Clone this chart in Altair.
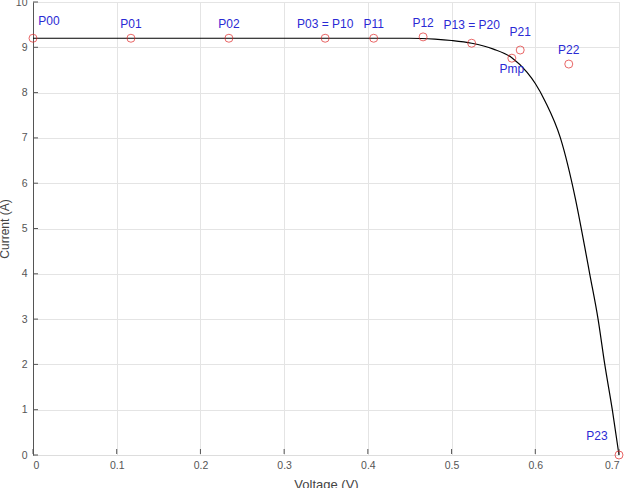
import altair as alt
import pandas as pd

# ---- data ----
point_labels = ["P00", "P01", "P02", "P03 = P10", "P11", "P12", "P13 = P20", "Pmp", "P21", "P22", "P23"]
point_v = [0.000, 0.117, 0.234, 0.349, 0.407, 0.466, 0.524, 0.572, 0.582, 0.640, 0.700]
point_i = [9.20, 9.20, 9.20, 9.20, 9.20, 9.23, 9.09, 8.76, 8.94, 8.63, 0.00]

curve_v = [0.000, 0.100, 0.200, 0.300, 0.400, 0.450, 0.480, 0.500, 0.524, 0.550, 0.572,
           0.590, 0.600, 0.612, 0.630, 0.648, 0.659, 0.665, 0.675, 0.683, 0.692, 0.700]
curve_i = [9.20, 9.20, 9.20, 9.20, 9.20, 9.20, 9.18, 9.15, 9.09, 8.96, 8.77,
           8.45, 8.20, 7.80, 7.00, 5.65, 4.60, 4.00, 3.00, 2.00, 1.00, 0.00]

x_ticks = [0, 0.1, 0.2, 0.3, 0.4, 0.5, 0.6, 0.7]
y_ticks = [0, 1, 2, 3, 4, 5, 6, 7, 8, 9, 10]

pts = pd.DataFrame({"label": point_labels, "v": point_v, "i": point_i})
curve = pd.DataFrame({"v": curve_v, "i": curve_i})
xt = pd.DataFrame({"v": x_ticks})
yt = pd.DataFrame({"i": y_ticks})

W, H = 586, 453
FONT = "Liberation Sans"
BLUE = "#2a2ad4"
RED = "#e02828"
AXISC = "#555555"
GRIDC = "#e4e4e4"

xscale = alt.Scale(domain=[0, 0.7], nice=False, zero=False)
yscale = alt.Scale(domain=[0, 10], nice=False)

xaxis = alt.Axis(values=x_ticks, format="~g", title="Voltage (V)", domain=False, ticks=False,
                 tickSize=0, grid=True, gridColor=GRIDC, gridWidth=1, labelPadding=5,
                 labelFont=FONT, labelFontSize=10.5, labelColor=AXISC, titleFont=FONT,
                 titleFontSize=13, titleFontWeight="normal", titleColor="#444444", titlePadding=8)
yaxis = alt.Axis(values=y_ticks, format="d", title="Current (A)", domain=True, domainColor=AXISC,
                 domainWidth=1, ticks=False, tickSize=0, grid=True, gridColor=GRIDC, gridWidth=1,
                 gridOpacity={"condition": {"test": "datum.value == 0", "value": 0}, "value": 1},
                 labelPadding=6, labelFont=FONT, labelFontSize=10.5, labelColor=AXISC,
                 titleFont=FONT, titleFontSize=12, titleFontWeight="normal", titleColor="#444444",
                 titleAngle=270, titleBaseline="bottom", titleAlign="center",
                 titleX=-22, titleY=H / 2)

base_axes = alt.Chart(curve).mark_line(color="black", strokeWidth=1.2, interpolate="monotone").encode(
    x=alt.X("v:Q", scale=xscale, axis=xaxis),
    y=alt.Y("i:Q", scale=yscale, axis=yaxis),
)

xtick_marks = alt.Chart(xt).mark_rule(color=AXISC, strokeWidth=1).encode(
    x=alt.X("v:Q", scale=xscale), y=alt.value(H - 1), y2=alt.value(H - 6)
)
ytick_marks = alt.Chart(yt).mark_rule(color=AXISC, strokeWidth=1).encode(
    y=alt.Y("i:Q", scale=yscale), x=alt.value(0), x2=alt.value(5)
)

circles = alt.Chart(pts).mark_point(shape="circle", filled=False, color=RED, size=64, strokeWidth=1).encode(
    x=alt.X("v:Q", scale=xscale), y=alt.Y("i:Q", scale=yscale)
)


def label_layer(names, dx, dy):
    return alt.Chart(pts).transform_filter(
        alt.FieldOneOfPredicate(field="label", oneOf=names)
    ).mark_text(font=FONT, fontSize=12, color=BLUE, align="center", baseline="middle", dx=dx, dy=dy).encode(
        x=alt.X("v:Q", scale=xscale), y=alt.Y("i:Q", scale=yscale), text="label:N"
    )


labels = [
    label_layer(["P01", "P02", "P03 = P10", "P11", "P12", "P22"], 0, -14),
    label_layer(["P13 = P20", "P21"], 0, -18),
    label_layer(["P00"], 16, -17),
    label_layer(["Pmp"], 0, 11),
    label_layer(["P23"], -22, -19),
]

chart = alt.layer(base_axes, xtick_marks, ytick_marks, circles, *labels).properties(
    width=W, height=H,
    autosize=alt.AutoSizeParams(type="none"),
    padding={"left": 33, "top": 2, "right": 6, "bottom": 33},
).configure_view(stroke=None).configure(background="white")

chart.save("out.html", embed_options={"renderer": "svg", "actions": False})
